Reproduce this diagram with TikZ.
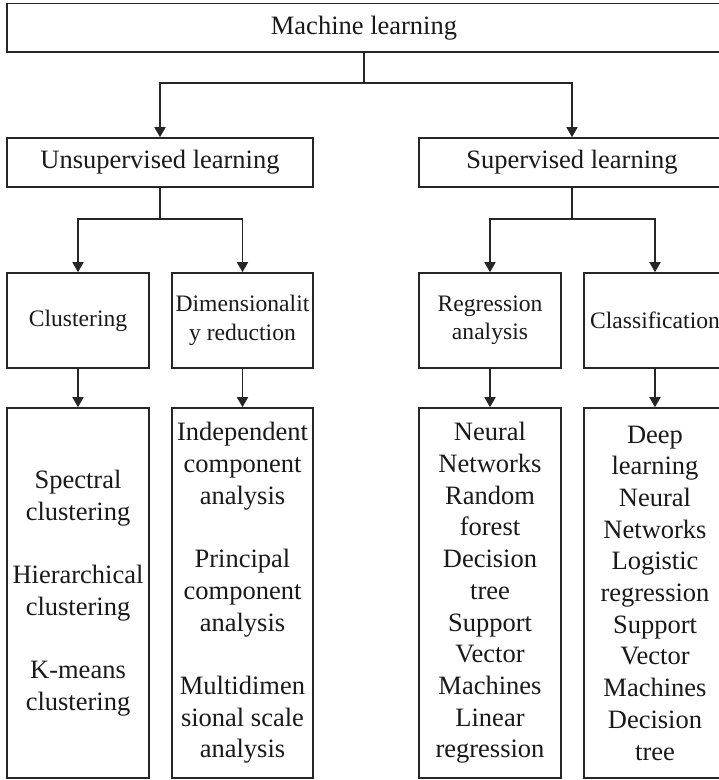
\documentclass[tikz,border=0pt]{standalone}
\usepackage{fontspec}
\setmainfont{Liberation Serif}
\usetikzlibrary{arrows.meta}
\begin{document}
\begin{tikzpicture}[x=1pt,y=-1pt,
  box/.style={draw=black!85, line width=1.6pt, rectangle, inner sep=0pt, align=center, text=black!90},
  big/.style={font=\fontsize{26.5}{31.7}\selectfont},
  mid/.style={font=\fontsize{23.6}{28.3}\selectfont},
  ln/.style={draw=black!85, line width=1.6pt},
  arr/.style={draw=black!85, line width=1.6pt, -{Triangle[length=10pt,width=11pt]}}]
\useasboundingbox (0,0) rectangle (719,780);
% level 0
\node[box,big,minimum width=714pt,minimum height=48.5pt] (ml) at (364,27.75) {Machine learning};
% level 1
\node[box,big,minimum width=306pt,minimum height=49pt] (ul) at (160,162.5) {Unsupervised learning};
\node[box,big,minimum width=306pt,minimum height=49pt] (sl) at (572,162.5) {Supervised learning};
% level 2
\node[box,mid,minimum width=142pt,minimum height=95pt] (cl) at (78,320.5) {Clustering};
\node[box,mid,minimum width=141pt,minimum height=95pt] (dr) at (242.5,320.5) {Dimensionalit\\y reduction};
\node[box,mid,minimum width=142pt,minimum height=95pt] (ra) at (490,320.5) {Regression\\analysis};
\node[box,mid,minimum width=142pt,minimum height=95pt] (cf) at (655,320.5) {Classification};
% level 3
\node[box,big,minimum width=142pt,minimum height=370pt] (clx) at (78,593) {Spectral\\clustering\\[31.7pt]Hierarchical\\clustering\\[31.7pt]K-means\\clustering};
\node[box,big,minimum width=141pt,minimum height=370pt] (drx) at (242.5,593) {Independent\\component\\analysis\\[31.7pt]Principal\\component\\analysis\\[31.7pt]Multidimen\\sional scale\\analysis};
\node[box,big,minimum width=142pt,minimum height=370pt] (rax) at (490,593) {Neural\\Networks\\Random\\forest\\Decision\\tree\\Support\\Vector\\Machines\\Linear\\regression};
\node[box,big,minimum width=142pt,minimum height=370pt] (cfx) at (655,593) {Deep\\learning\\Neural\\Networks\\Logistic\\regression\\Support\\Vector\\Machines\\Decision\\tree};
% junctions
\coordinate (j1) at (364,83);
\coordinate (j2) at (160,219);
\coordinate (j3) at (572,219);
% connectors
\draw[ln] (ml.south) -- (j1);
\draw[arr] (j1) -| (ul.north);
\draw[arr] (j1) -| (sl.north);
\draw[ln] (ul.south) -- (j2);
\draw[arr] (j2) -| (cl.north);
\draw[arr] (j2) -| (dr.north);
\draw[ln] (sl.south) -- (j3);
\draw[arr] (j3) -| (ra.north);
\draw[arr] (j3) -| (cf.north);
\draw[arr] (cl.south) -- (clx.north);
\draw[arr] (dr.south) -- (drx.north);
\draw[arr] (ra.south) -- (rax.north);
\draw[arr] (cf.south) -- (cfx.north);
\end{tikzpicture}
\end{document}
